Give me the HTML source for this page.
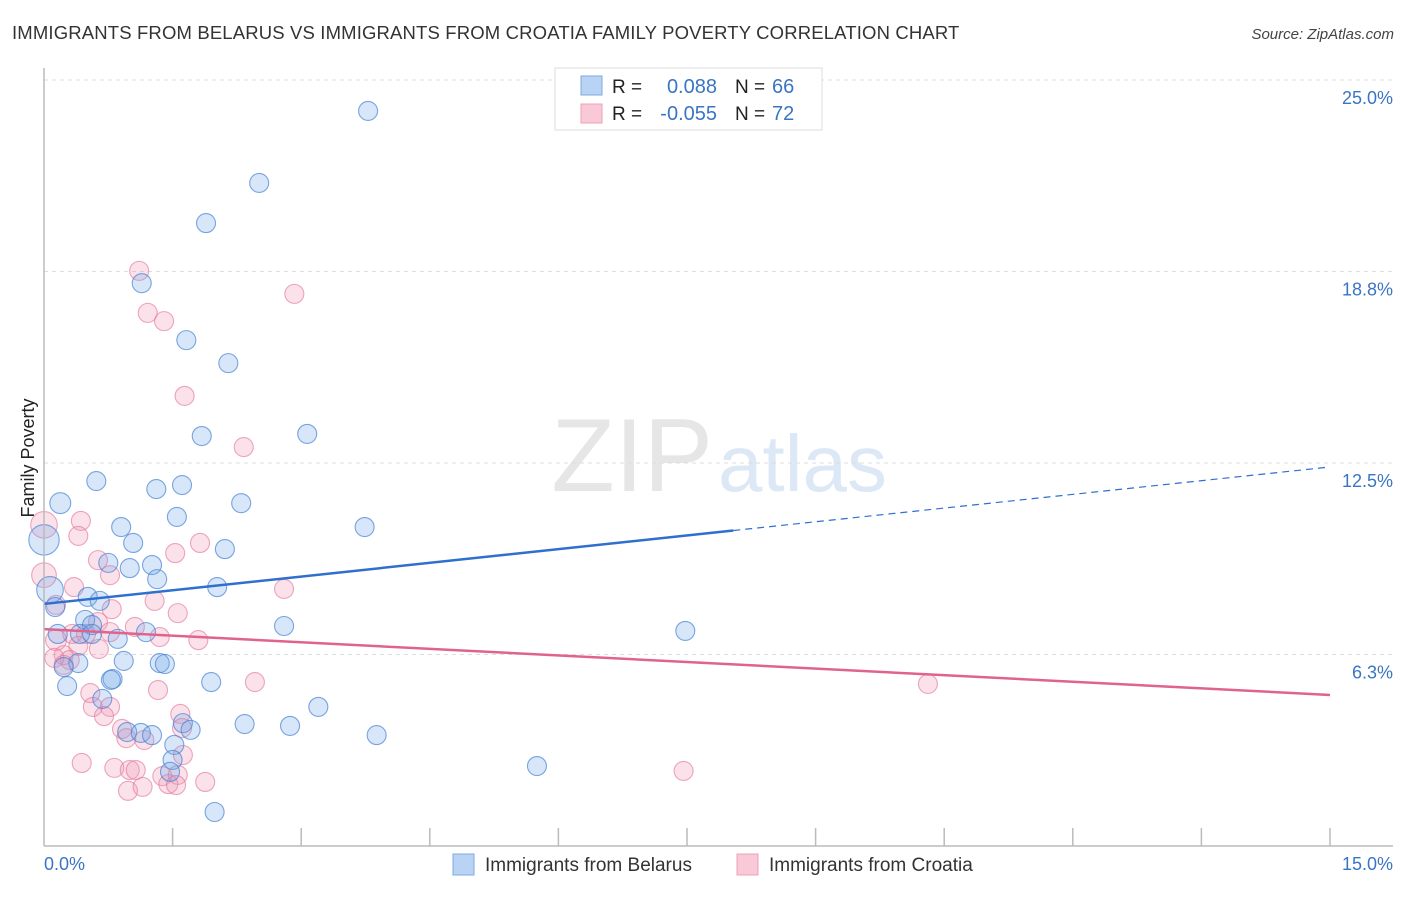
<!DOCTYPE html>
<html><head><meta charset="utf-8"><style>
body{margin:0;background:#fff;font-family:"Liberation Sans",sans-serif;}
svg text{font-family:"Liberation Sans",sans-serif;}
</style></head><body>
<svg width="1406" height="892" id="c">
<text x="12" y="39" font-size="18.5" fill="#333" letter-spacing="0.15">IMMIGRANTS FROM BELARUS VS IMMIGRANTS FROM CROATIA FAMILY POVERTY CORRELATION CHART</text>
<text x="1394" y="39" font-size="15" fill="#444" font-style="italic" text-anchor="end">Source: ZipAtlas.com</text>
<text x="713" y="491" font-size="104" fill="#e6e6e6" text-anchor="end" font-family="Liberation Serif">ZIP</text>
<text x="718" y="491" font-size="80" fill="#dce8f6">atlas</text>
<text transform="translate(34,458) rotate(-90)" font-size="18" fill="#222" text-anchor="middle">Family Poverty</text>
<g id="grid"></g><g id="pts"></g><g id="lines"></g>
<line x1="44" y1="68" x2="44" y2="846" stroke="#bbb" stroke-width="1.5"/>
<line x1="44" y1="846" x2="1393" y2="846" stroke="#bbb" stroke-width="1.5"/>
<text x="44" y="870" font-size="18" fill="#3a75c4">0.0%</text>
<text x="1393" y="870" font-size="18" fill="#3a75c4" text-anchor="end">15.0%</text>
<g>
<rect x="555" y="68" width="267" height="62" fill="#fff" stroke="#ddd"/>
<rect x="581" y="76" width="21" height="19" fill="#b8d3f4" stroke="#7fa9e0"/>
<rect x="581" y="104" width="21" height="19" fill="#fac9d8" stroke="#eea0b8"/>
<text x="612" y="93" font-size="19" fill="#222">R =</text><text x="717" y="93" font-size="20" fill="#3a75c4" text-anchor="end">0.088</text>
<text x="735" y="93" font-size="19" fill="#222">N =</text><text x="772" y="93" font-size="20" fill="#3a75c4">66</text>
<text x="612" y="120" font-size="19" fill="#222">R =</text><text x="717" y="120" font-size="20" fill="#3a75c4" text-anchor="end">-0.055</text>
<text x="735" y="120" font-size="19" fill="#222">N =</text><text x="772" y="120" font-size="20" fill="#3a75c4">72</text>
</g>
<g><rect x="453" y="854" width="21" height="21" fill="#b8d3f4" stroke="#7fa9e0"/><text x="485" y="871" font-size="19" fill="#333">Immigrants from Belarus</text></g>
<g><rect x="737" y="854" width="21" height="21" fill="#fac9d8" stroke="#eea0b8"/><text x="769" y="871" font-size="19" fill="#333">Immigrants from Croatia</text></g>
</svg>
<script>
const yTicks=[6.25,12.5,18.75,25];
const yTickLabels=["6.3%","12.5%","18.8%","25.0%"];
const xTicks=[1.5,3,4.5,6,7.5,9,10.5,12,13.5,15];
const belarusX=[3.78,2.51,1.89,1.14,1.66,2.15,1.84,3.07,0.61,0.19,1.31,1.61,2.30,1.55,0.90,3.74,0,1.04,2.11,0.75,1.26,1.00,1.32,0.07,2.02,0.51,0.65,0.13,0.48,0.56,1.19,2.80,7.48,0.86,0.16,0.42,0.56,0.40,0.23,0.93,1.35,1.41,0.80,0.78,0.27,1.95,0.68,3.20,1.62,2.34,2.87,1.71,0.97,1.13,1.26,3.88,1.52,1.50,1.47,5.75,1.99];
const belarusY=[23.99,21.64,20.33,18.37,16.51,15.76,13.38,13.45,11.91,11.19,11.65,11.78,11.19,10.74,10.41,10.41,9.99,9.89,9.69,9.24,9.17,9.07,8.71,8.36,8.45,8.13,8.00,7.80,7.38,7.21,6.98,7.18,7.02,6.76,6.92,6.92,6.92,5.97,5.84,6.04,5.97,5.94,5.45,5.42,5.22,5.35,4.80,4.54,4.01,3.98,3.92,3.79,3.72,3.69,3.62,3.62,3.30,2.81,2.42,2.61,1.11];
const belarusSize=[1,1,1,1,1,1,1,1,1,1.1,1,1,1,1,1,1,1.6,1,1,1,1,1,1,1.4,1,1,1,1,1,1,1,1,1,1,1,1,1,1,1,1,1,1,1,1,1,1,1,1,1,1,1,1,1,1,1,1,1,1,1,1,1];
const croatiaX=[1.11,2.92,1.21,1.40,1.64,2.33,0,0.43,0.40,1.82,1.53,0.63,0.77,0,0.35,1.29,2.80,0.14,0.79,1.56,0.63,1.06,0.77,0.33,0.49,1.35,1.80,0.14,0.40,0.64,0.23,0.30,0.12,0.23,2.46,10.31,1.33,0.54,0.57,0.77,0.70,1.59,1.61,0.91,0.96,1.17,0.44,0.82,1.00,1.62,1.38,1.56,1.45,1.54,1.88,0.98,1.15,7.46,1.07];
const croatiaY=[18.77,18.02,17.40,17.13,14.69,13.02,10.48,10.61,10.12,9.89,9.56,9.33,8.84,8.84,8.45,8.00,8.39,7.87,7.73,7.60,7.31,7.15,6.98,6.92,6.92,6.82,6.72,6.72,6.53,6.43,6.23,6.07,6.14,5.91,5.35,5.29,5.09,4.99,4.54,4.54,4.24,4.31,3.85,3.82,3.52,3.46,2.71,2.55,2.48,2.97,2.28,2.32,2.02,1.99,2.09,1.80,1.93,2.45,2.48];
const croatiaSize=[1,1,1,1,1,1,1.4,1,1,1,1,1,1,1.3,1,1,1,1,1,1,1,1,1,1,1,1,1,1.1,1,1,1,1,1,1,1,1,1,1,1,1,1,1,1,1,1,1,1,1,1,1,1,1,1,1,1,1,1,1,1];
const belarusTrend=[7.90,12.37];const belarusSolidEnd=8.04;
const croatiaTrend=[7.08,4.93];
const NS="http://www.w3.org/2000/svg";
const xs=v=>44+v/15*1286, ys=v=>846-v/25*766;
function mk(t,a,p){const e=document.createElementNS(NS,t);for(const k in a)e.setAttribute(k,a[k]);p.appendChild(e);return e;}
const grid=document.getElementById('grid');
yTicks.forEach((t,i)=>{
 const l=mk('line',{x1:44,x2:1393,y1:ys(t),y2:ys(t),stroke:'#ddd','stroke-dasharray':'4,4'},grid);
 
 
 const tx=mk('text',{x:1393,y:ys(t)+24,'font-size':18,fill:'#3a75c4','text-anchor':'end'},grid);tx.textContent=yTickLabels[i];
 
 
});
xTicks.forEach(t=>{
 const l=mk('line',{x1:xs(t),x2:xs(t),y1:828,y2:846,stroke:'#bbb','stroke-width':1.5},grid);
 
 
});
const pts=document.getElementById('pts');
function series(X,Y,S,fill,stroke,name){X.forEach((x,i)=>{
 const c=mk('circle',{cx:xs(x),cy:ys(Y[i]),r:9.5*S[i],fill:fill,stroke:stroke,'stroke-width':1.1},pts);
 
 
});}
series(croatiaX,croatiaY,croatiaSize,'rgba(242,150,178,0.28)','rgba(228,120,155,0.65)','croatia-point');
series(belarusX,belarusY,belarusSize,'rgba(110,165,232,0.28)','rgba(70,130,210,0.7)','belarus-point');
const ln=document.getElementById('lines');
const bAt=x=>belarusTrend[0]+(belarusTrend[1]-belarusTrend[0])*x/15;
let a=mk('line',{x1:xs(0),y1:ys(bAt(0)),x2:xs(belarusSolidEnd),y2:ys(bAt(belarusSolidEnd)),stroke:'#2f6fce','stroke-width':2.5},ln);


a=mk('line',{x1:xs(belarusSolidEnd),y1:ys(bAt(belarusSolidEnd)),x2:xs(15),y2:ys(bAt(15)),stroke:'#2f6fce','stroke-width':1.2,'stroke-dasharray':'7,5'},ln);


a=mk('line',{x1:xs(0),y1:ys(croatiaTrend[0]),x2:xs(15),y2:ys(croatiaTrend[1]),stroke:'#e0638f','stroke-width':2.5},ln);


</script>
</body></html>
